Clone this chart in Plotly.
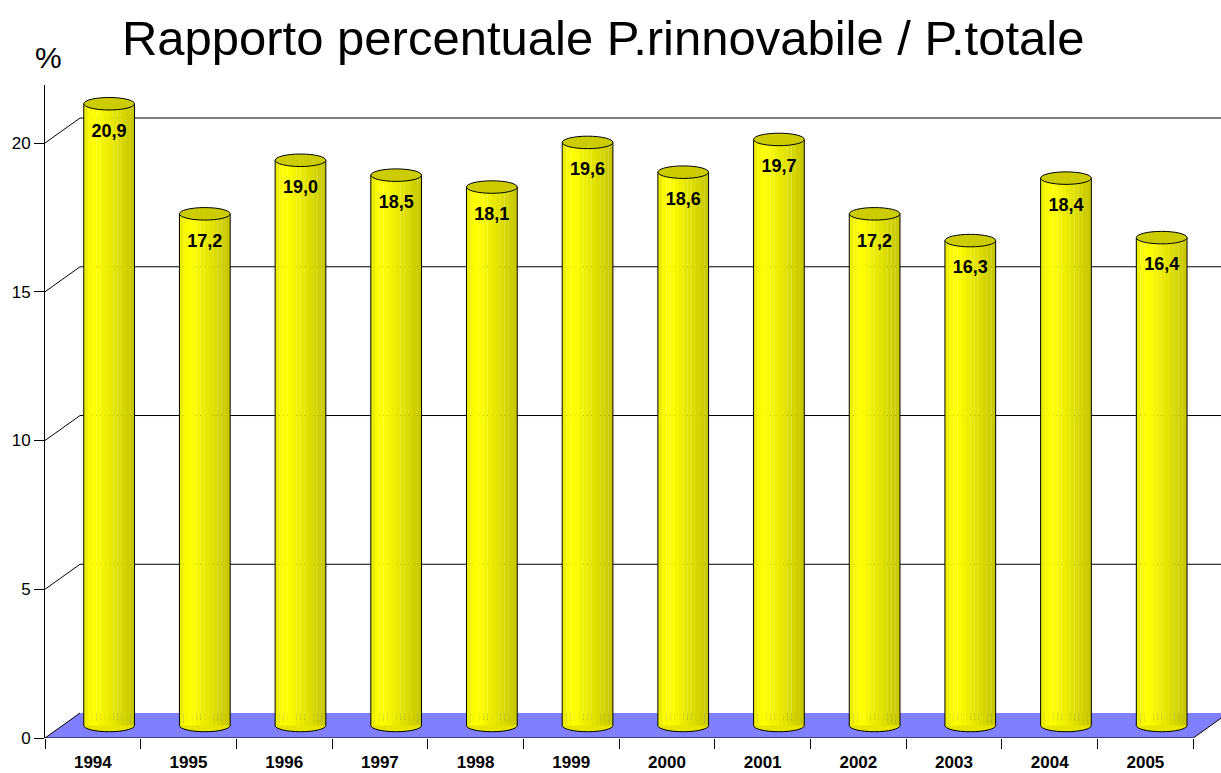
import plotly.graph_objects as go

years = ["1994", "1995", "1996", "1997", "1998", "1999", "2000", "2001", "2002", "2003", "2004", "2005"]
values = [20.9, 17.2, 19.0, 18.5, 18.1, 19.6, 18.6, 19.7, 17.2, 16.3, 18.4, 16.4]
labels = ["20,9", "17,2", "19,0", "18,5", "18,1", "19,6", "18,6", "19,7", "17,2", "16,3", "18,4", "16,4"]
y_ticks = [0, 5, 10, 15, 20]

# 3D look parameters (in axis units)
DX, DY = 0.366, 0.84        # depth offset of back wall
BAR_W = 0.53                # cylinder width
BAR_SHIFT = 0.17            # shift of cylinder center to the right
BASE = 0.42                 # cylinder base height (middle of floor depth)
RY = 0.21                   # ellipse half-height
XMAX = 12.29
YMAX = 21.95

strip_colors = ["#EEEE00", "#FAFA00", "#FFFF00", "#FCFC00", "#F5F500", "#EFEF00",
                "#E9E900", "#E3E300", "#DCDC00", "#D5D500", "#CFCF00", "#C9C900"]

n = len(years)
centers = [i + 0.5 for i in range(n)]
bar_c = [c + BAR_SHIFT for c in centers]

fig = go.Figure()

shapes = []
# floor
shapes.append(dict(type="path", xref="x", yref="y", layer="below",
                   path=f"M 0 0 L {DX} {DY} L {n + DX} {DY} L {n} 0 Z",
                   fillcolor="#8080FF", line=dict(width=0)))
shapes.append(dict(type="line", xref="x", yref="y", layer="below", x0=0, y0=0, x1=DX, y1=DY,
                   line=dict(color="black", width=1)))
shapes.append(dict(type="line", xref="x", yref="y", layer="below", x0=n, y0=0, x1=n + DX, y1=DY,
                   line=dict(color="black", width=1)))
# back wall gridlines
for v in y_ticks[1:]:
    shapes.append(dict(type="path", xref="x", yref="y", layer="below",
                       path=f"M 0 {v} L {DX} {v + DY} L {XMAX + 1} {v + DY}",
                       line=dict(color="black", width=1)))
# bottom ellipses
for c in bar_c:
    shapes.append(dict(type="circle", xref="x", yref="y", layer="below",
                       x0=c - BAR_W / 2, x1=c + BAR_W / 2, y0=BASE - RY, y1=BASE + RY,
                       fillcolor="#E6E600", line=dict(color="black", width=1)))

# cylinder bodies as strips
ns = len(strip_colors)
sw = BAR_W / ns
for k, col in enumerate(strip_colors):
    off = -BAR_W / 2 + sw * (k + 0.5)
    fig.add_trace(go.Bar(
        x=[c + off for c in bar_c], y=values, base=BASE, width=sw * 1.02,
        marker=dict(color=col, line=dict(width=0)), showlegend=False, hoverinfo="skip"))

# side outlines and top ellipses
for c, v in zip(bar_c, values):
    top = v + BASE
    for xe in (c - BAR_W / 2, c + BAR_W / 2):
        shapes.append(dict(type="line", xref="x", yref="y", layer="above",
                           x0=xe, x1=xe, y0=BASE, y1=top, line=dict(color="black", width=1)))
    shapes.append(dict(type="circle", xref="x", yref="y", layer="above",
                       x0=c - BAR_W / 2, x1=c + BAR_W / 2, y0=top - RY, y1=top + RY,
                       fillcolor="#CCCC00", line=dict(color="black", width=1)))

# value labels
fig.add_trace(go.Scatter(
    x=bar_c, y=[v + BASE - 0.95 for v in values], mode="text", text=labels,
    textfont=dict(family="Liberation Sans", size=18, color="black", weight="bold"),
    showlegend=False, hoverinfo="skip"))

fig.update_layout(
    width=1221, height=773,
    margin=dict(l=45, r=0, t=85, b=35, autoexpand=False),
    plot_bgcolor="white", paper_bgcolor="white",
    barmode="overlay",
    shapes=shapes,
    title=dict(text="Rapporto percentuale P.rinnovabile / P.totale",
               font=dict(family="Liberation Sans", size=49, color="black"),
               x=0.494, xanchor="center", y=0.951, yanchor="middle"),
    annotations=[dict(text="%", xref="paper", yref="paper", x=0, y=1, xshift=3, yshift=9,
                      xanchor="center", yanchor="bottom", showarrow=False,
                      font=dict(family="Liberation Sans", size=30, color="black"))],
    xaxis=dict(range=[0, XMAX], tickvals=centers, ticktext=years, ticks="",
               ticklabelstandoff=12, automargin=False,
               tickfont=dict(family="Liberation Sans", size=17, color="black", weight="bold"),
               showline=False, showgrid=False, zeroline=False,
               minor=dict(tickvals=list(range(n + 1)), ticks="outside", ticklen=10,
                          tickcolor="black", showgrid=False)),
    yaxis=dict(range=[0, YMAX], tickvals=y_ticks, ticks="outside", ticklen=10,
               tickcolor="black", showline=True, linecolor="black", linewidth=1,
               showgrid=False, zeroline=False, automargin=False,
               tickfont=dict(family="Liberation Sans", size=17, color="black")),
)
# front edge of floor / x axis line
fig.add_shape(type="line", xref="x", yref="y", x0=0, x1=n, y0=0, y1=0, layer="above",
              line=dict(color="black", width=1))

fig.write_html("out.html", config={"displayModeBar": False},
               post_script="document.body.style.margin='0';")
